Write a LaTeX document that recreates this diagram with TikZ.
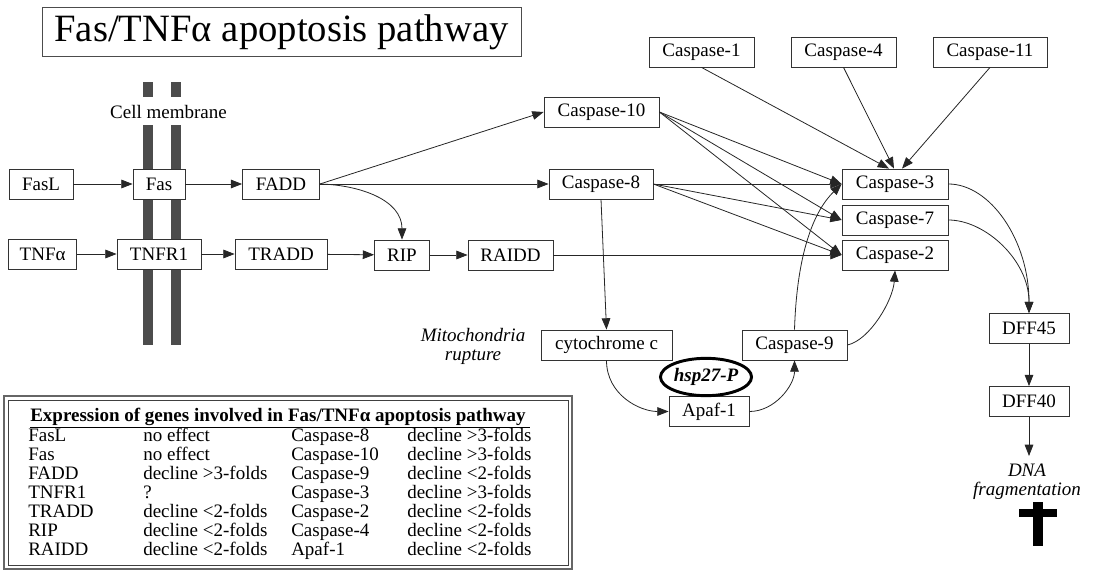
\documentclass[tikz,border=0pt]{standalone}
\usepackage{fontspec}
\setmainfont{Liberation Serif}
\usetikzlibrary{arrows.meta,calc,shapes.geometric}
\begin{document}
\begin{tikzpicture}[x=0.75pt,y=-0.75pt,
  txt/.style={font=\fontsize{14.25}{14.25}\selectfont},
  box/.style={txt,draw=black!80,line width=0.6pt,fill=white,inner sep=0pt,minimum height=22.5pt},
  bw/.style={minimum width=#1*0.75pt},
  arr/.style={-{Triangle[length=8.5pt,width=6.5pt]},line width=0.6pt,draw=black!85},
  lbl/.style={inner sep=0pt,font=\fontsize{14.25}{14.25}\selectfont\itshape,align=center},
  cell/.style={txt,anchor=base west,inner sep=0pt},
  bar/.style={fill=black!70}
]
\useasboundingbox (0,0) rectangle (1094,573);

% title
\node[draw=black!70,line width=0.6pt,bw=479,minimum height=36.75pt,inner sep=0pt,font=\fontsize{29}{29}\selectfont] (title) at (281.5,32) {Fas/TNFα apoptosis pathway};

% membrane bars
\fill[bar] (143,82) rectangle (153,97);
\fill[bar] (171,82) rectangle (181,97);
\fill[bar] (143,125) rectangle (153,345);
\fill[bar] (171,125) rectangle (181,345);
\node[txt,inner sep=0pt] (memb) at (168.5,112) {Cell membrane};

% nodes
\node[box,bw=64] (fasl) at (41,184) {FasL};
\node[box,bw=52] (fas) at (159,184) {Fas};
\node[box,bw=77] (fadd) at (281,184) {FADD};
\node[box,bw=68] (tnfa) at (42.6,254) {TNFα};
\node[box,bw=84] (tnfr) at (159,254) {TNFR1};
\node[box,bw=92] (tradd) at (281,254) {TRADD};
\node[box,bw=55] (rip) at (402,255) {RIP};
\node[box,bw=85] (raidd) at (510.5,255) {RAIDD};
\node[box,bw=115] (c10) at (601.5,112) {Caspase-10};
\node[box,bw=104] (c8) at (601,184) {Caspase-8};
\node[box,bw=105] (c1) at (701.5,52) {Caspase-1};
\node[box,bw=105] (c4) at (843.5,52) {Caspase-4};
\node[box,bw=114] (c11) at (990,52) {Caspase-11};
\node[box,bw=106] (c3) at (895,184) {Caspase-3};
\node[box,bw=106] (c7) at (895,220) {Caspase-7};
\node[box,bw=106] (c2) at (895,255) {Caspase-2};
\node[box,bw=131] (cyt) at (606.5,345) {cytochrome c};
\node[box,bw=105] (c9) at (794.5,345) {Caspase-9};
\node[box,bw=80] (apaf) at (709,411.5) {Apaf-1};
\node[ellipse,draw=black,fill=white,line width=2.2pt,minimum width=68pt,minimum height=28pt,inner sep=0pt,font=\fontsize{14.25}{14.25}\selectfont\bfseries\itshape] (hsp) at (706,377) {hsp27-P};
\node[box,bw=80] (dff45) at (1029,328.5) {DFF45};
\node[box,bw=80] (dff40) at (1029,401.5) {DFF40};
\node[lbl] (mito) at (473,346.5) {Mitochondria\\rupture};
\node[lbl] (dna) at (1027,481.5) {DNA\\fragmentation};
\coordinate (dnatip) at (1029,456);

% cross
\fill (1033,502) rectangle (1043,546);
\fill (1019,509) rectangle (1057,517);

% arrows
\draw[arr] (fasl) -- (fas);
\draw[arr] (fas) -- (fadd);
\draw[arr] (tnfa) -- (tnfr);
\draw[arr] (tnfr) -- (tradd);
\draw[arr] (tradd) -- (rip);
\draw[arr] (rip) -- (raidd);
\draw[arr] (fadd.east) -- (c10.west);
\draw[arr] (fadd.east) -- (c8.west);
\draw[arr] (fadd.east) .. controls (360,185) and (402,200) .. (rip.north);
\draw[arr] (raidd.east) -- (c2.west);
\foreach \t in {c3,c7,c2}{
  \draw[arr] (c10.east) -- (\t.west);
  \draw[arr] (c8.east) -- (\t.west);
}
\draw[arr] (c1.south) -- ($(c3.north)+(-6,0)$);
\draw[arr] (c4.south) -- ($(c3.north)+(-1,0)$);
\draw[arr] (c11.south) -- ($(c3.north)+(7,0)$);
\draw[arr] (c8.south) -- (cyt.north);
\draw[arr] (cyt.south) .. controls (606.5,395) and (640,411.5) .. (apaf.west);
\draw[arr] (apaf.east) .. controls (775,411.5) and (794.5,385) .. (c9.south);
\draw[arr] (c9.north) .. controls (797,250) and (815,210) .. (c3.west);
\draw[arr] (c9.east) .. controls (870,340) and (893,300) .. (c2.south);
\draw[arr] (c3.east) .. controls (990,184) and (1029,240) .. (dff45.north);
\draw[arr] (c7.east) .. controls (985,220) and (1029,260) .. (dff45.north);
\draw[arr] (dff45) -- (dff40);
\draw[arr] (dff40.south) -- (dnatip);

% table
\draw[black!60,line width=1.6pt] (4,396) rectangle (572,569);
\draw[black!75,line width=0.6pt] (8,400) rectangle (568,565);
\node[cell,font=\fontsize{14.25}{14.25}\selectfont\bfseries] (thead) at (30,421.5) {\underline{Expression of genes involved in Fas/TNFα apoptosis pathway\ }};
\foreach \a/\b/\c/\d [count=\i from 0] in {FasL/no effect/Caspase-8/decline >3-folds,Fas/no effect/Caspase-10/decline >3-folds,FADD/decline >3-folds/Caspase-9/decline <2-folds,TNFR1/?/Caspase-3/decline >3-folds,TRADD/decline <2-folds/Caspase-2/decline <2-folds,RIP/decline <2-folds/Caspase-4/decline <2-folds,RAIDD/decline <2-folds/Apaf-1/decline <2-folds}{
  \pgfmathsetmacro\yb{441+19*\i}
  \node[cell] (ta\i) at (28,\yb) {\a};
  \node[cell] (tb\i) at (143,\yb) {\b};
  \node[cell] (tc\i) at (291,\yb) {\c};
  \node[cell] (td\i) at (407,\yb) {\d};
}
\end{tikzpicture}
\end{document}
